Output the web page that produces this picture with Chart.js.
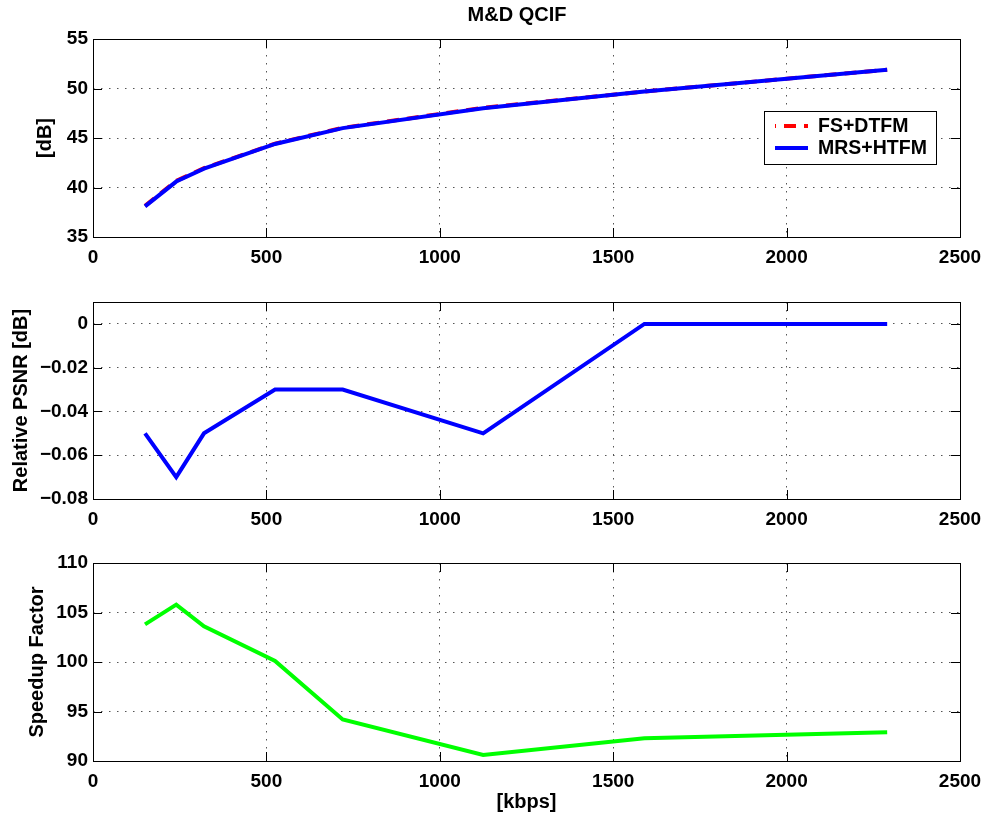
<!DOCTYPE html>
<html>
<head>
<meta charset="utf-8">
<script src="https://cdn.jsdelivr.net/npm/chart.js@4.4.0/dist/chart.umd.min.js"></script>
<style>
  html, body { margin: 0; padding: 0; background: #fff; }
  .panel { position: absolute; left: 0; width: 985px; }
</style>
</head>
<body>
<div class="panel" style="top:0;height:280px"><canvas id="psnrChart" width="985" height="280"></canvas></div>
<div class="panel" style="top:280px;height:260px"><canvas id="relChart" width="985" height="260"></canvas></div>
<div class="panel" style="top:540px;height:280px"><canvas id="speedChart" width="985" height="280"></canvas></div>
<script>
// bit rates (kbps) shared by all three panels
const kbps = [150, 240, 320, 525, 720, 1125, 1590, 2290];

// PSNR [dB] for the two methods
const fsDtfm = [38.15, 40.67, 41.95, 44.43, 46.03, 48.05, 49.7, 51.9];
const mrsHtfm = [38.1, 40.6, 41.9, 44.4, 46.0, 48.0, 49.7, 51.9];

// relative PSNR [dB]
const relPsnr = [-0.05, -0.07, -0.05, -0.03, -0.03, -0.05, 0, 0];

// speedup factor
const speedup = [103.8, 105.8, 103.6, 100.1, 94.2, 90.6, 92.3, 92.9];

const xTicks = [0, 500, 1000, 1500, 2000, 2500];
const psnrTicks = [35, 40, 45, 50, 55];
const relTicks = [-0.08, -0.06, -0.04, -0.02, 0];
const speedTicks = [90, 95, 100, 105, 110];

const FONT = "'Liberation Sans', Arial, Helvetica, sans-serif";
const TICK_LEN = 9;

function pts(ys) {
    return kbps.map((x, i) => ({ x: x, y: ys[i] }));
}

// MATLAB-like box with inward ticks on all four sides
const boxPlugin = {
    id: 'boxPlugin',
    afterDraw(chart) {
        const ctx = chart.ctx;
        const a = chart.chartArea;
        const xs = chart.scales.x, ys = chart.scales.y;
        ctx.save();
        ctx.strokeStyle = '#000';
        ctx.lineWidth = 1;
        ctx.beginPath();
        xs.ticks.forEach(t => {
            const px = Math.round(xs.getPixelForValue(t.value)) + 0.5;
            ctx.moveTo(px, a.bottom); ctx.lineTo(px, a.bottom - TICK_LEN);
            ctx.moveTo(px, a.top); ctx.lineTo(px, a.top + TICK_LEN);
        });
        ys.ticks.forEach(t => {
            const py = Math.round(ys.getPixelForValue(t.value)) + 0.5;
            ctx.moveTo(a.left, py); ctx.lineTo(a.left + TICK_LEN, py);
            ctx.moveTo(a.right, py); ctx.lineTo(a.right - TICK_LEN, py);
        });
        ctx.stroke();
        ctx.strokeRect(Math.round(a.left) + 0.5, Math.round(a.top) + 0.5,
            Math.round(a.right - a.left), Math.round(a.bottom - a.top));
        ctx.restore();
    }
};

// figure title and the boxed legend of the top panel
const topDecor = {
    id: 'topDecor',
    afterDraw(chart) {
        const ctx = chart.ctx;
        ctx.save();
        ctx.fillStyle = '#000';
        ctx.font = 'bold 20px ' + FONT;
        ctx.textAlign = 'center';
        ctx.textBaseline = 'middle';
        ctx.fillText('M&D QCIF', 517, 15);

        // legend box
        const bx = 764, by = 111, bw = 172, bh = 53;
        ctx.fillStyle = '#fff';
        ctx.fillRect(bx, by, bw, bh);
        ctx.strokeStyle = '#000';
        ctx.lineWidth = 1;
        ctx.strokeRect(bx + 0.5, by + 0.5, bw, bh);
        const rows = [126, 148];
        chart.data.datasets.forEach((ds, i) => {
            const y = rows[i];
            ctx.strokeStyle = ds.borderColor;
            ctx.lineWidth = ds.borderWidth;
            ctx.setLineDash(ds.borderDash || []);
            ctx.lineDashOffset = ds.borderDash ? 11 : 0;
            ctx.beginPath();
            ctx.moveTo(775, y);
            ctx.lineTo(808, y);
            ctx.stroke();
            ctx.setLineDash([]);
            ctx.fillStyle = '#000';
            ctx.font = 'bold 19.5px ' + FONT;
            ctx.textAlign = 'left';
            ctx.textBaseline = 'middle';
            ctx.fillText(ds.label, 818, y + 1);
        });
        ctx.restore();
    }
};

function makeScales(yMin, yMax, yTickVals, yTitle, yTitlePad, xHeight, xTitle, yFmt) {
    return {
        x: {
            type: 'linear',
            min: 0,
            max: 2500,
            afterBuildTicks: s => { s.ticks = xTicks.map(v => ({ value: v })); },
            afterFit: s => { s.height = xHeight; s.paddingLeft = 0; s.paddingRight = 0; },
            grid: { color: '#555', lineWidth: 1, drawTicks: false },
            border: { display: false, dash: [1.5, 6.5] },
            ticks: {
                padding: 9,
                color: '#000',
                font: { family: FONT, size: 19, weight: 'bold' },
                maxRotation: 0,
                callback: v => String(v)
            },
            title: xTitle ? {
                display: true,
                text: xTitle,
                color: '#000',
                font: { family: FONT, size: 20, weight: 'bold' },
                padding: { top: 0, bottom: 6 }
            } : { display: false }
        },
        y: {
            type: 'linear',
            min: yMin,
            max: yMax,
            afterBuildTicks: s => { s.ticks = yTickVals.map(v => ({ value: v })); },
            afterFit: s => { s.width = 93; s.paddingTop = 0; s.paddingBottom = 0; },
            grid: { color: '#555', lineWidth: 1, drawTicks: false },
            border: { display: false, dash: [1.5, 6.5] },
            ticks: {
                padding: 5,
                color: '#000',
                font: { family: FONT, size: 19, weight: 'bold' },
                callback: yFmt || (v => String(v))
            },
            title: {
                display: true,
                text: yTitle,
                color: '#000',
                font: { family: FONT, size: 20, weight: 'bold' },
                padding: { top: yTitlePad, bottom: 0 }
            }
        }
    };
}

function lineDs(label, ys, color, order, dash) {
    const ds = {
        label: label,
        data: pts(ys),
        borderColor: color,
        backgroundColor: color,
        borderWidth: 4,
        pointRadius: 0,
        tension: 0,
        fill: false,
        order: order,
        borderJoinStyle: 'miter',
        borderCapStyle: 'butt'
    };
    if (dash) ds.borderDash = dash;
    return ds;
}

const baseOpts = {
    responsive: false,
    animation: false,
    devicePixelRatio: 1,
    plugins: { legend: { display: false }, tooltip: { enabled: false }, title: { display: false } }
};

new Chart(document.getElementById('psnrChart'), {
    type: 'line',
    data: {
        datasets: [
            lineDs('FS+DTFM', fsDtfm, '#ff0000', 1, [12, 8]),
            lineDs('MRS+HTFM', mrsHtfm, '#0000ff', 0)
        ]
    },
    options: Object.assign({}, baseOpts, {
        layout: { padding: { top: 39, right: 25, left: 0, bottom: 0 } },
        scales: makeScales(35, 55, psnrTicks, '[dB]', 33, 43, null)
    }),
    plugins: [boxPlugin, topDecor]
});

new Chart(document.getElementById('relChart'), {
    type: 'line',
    data: { datasets: [lineDs('Relative PSNR', relPsnr, '#0000ff', 0)] },
    options: Object.assign({}, baseOpts, {
        layout: { padding: { top: 22, right: 25, left: 0, bottom: 0 } },
        scales: makeScales(-0.08, 0.01, relTicks, 'Relative PSNR [dB]', 9, 41, null,
            v => v === 0 ? '0' : '\u2212' + Math.abs(v).toFixed(2))
    }),
    plugins: [boxPlugin]
});

new Chart(document.getElementById('speedChart'), {
    type: 'line',
    data: { datasets: [lineDs('Speedup Factor', speedup, '#00ff00', 0)] },
    options: Object.assign({}, baseOpts, {
        layout: { padding: { top: 23, right: 25, left: 0, bottom: 0 } },
        scales: makeScales(90, 110, speedTicks, 'Speedup Factor', 25, 59, '[kbps]')
    }),
    plugins: [boxPlugin]
});
</script>
</body>
</html>
